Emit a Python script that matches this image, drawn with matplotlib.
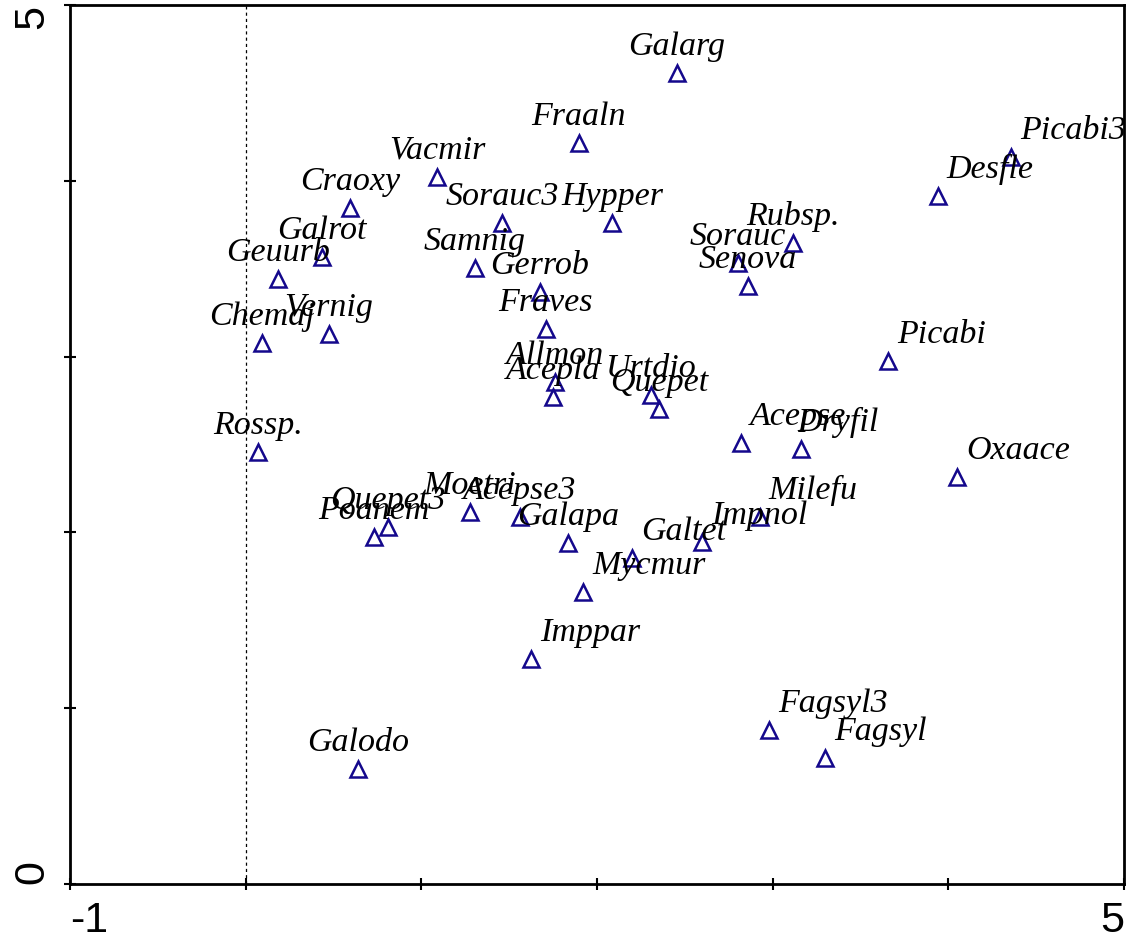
import matplotlib
matplotlib.use('Agg')
import matplotlib.pyplot as plt

# species scores (axis 1, axis 2)
species = ['Galarg', 'Fraaln', 'Vacmir', 'Craoxy', 'Sorauc3', 'Hypper', 'Galrot', 'Samnig',
           'Geuurb', 'Gerrob', 'Fraves', 'Vernig', 'Chemaj', 'Allmon', 'Acepla', 'Urtdio',
           'Quepet', 'Rossp.', 'Poanem', 'Quepet3', 'Moetri', 'Acepse3', 'Galapa', 'Mycmur',
           'Galtet', 'Impnol', 'Milefu', 'Imppar', 'Galodo', 'Acepse', 'Dryfil', 'Picabi',
           'Oxaace', 'Desfle', 'Picabi3', 'Rubsp.', 'Sorauc', 'Senova', 'Fagsyl3', 'Fagsyl']
axis1 = [2.455, 1.897, 1.089, 0.594, 1.459, 2.085, 0.434, 1.305,
         0.184, 1.675, 1.709, 0.474, 0.093, 1.760, 1.749, 2.307,
         2.352, 0.070, 0.730, 0.810, 1.277, 1.561, 1.834, 1.920,
         2.199, 2.597, 2.927, 1.624, 0.639, 2.819, 3.160, 3.656,
         4.048, 3.940, 4.356, 3.115, 2.802, 2.859, 2.978, 3.297]
axis2 = [4.613, 4.215, 4.022, 3.845, 3.760, 3.760, 3.567, 3.504,
         3.441, 3.367, 3.157, 3.129, 3.077, 2.856, 2.770, 2.782,
         2.702, 2.457, 1.974, 2.031, 2.116, 2.088, 1.940, 1.661,
         1.854, 1.945, 2.088, 1.280, 0.654, 2.509, 2.474, 2.975,
         2.315, 3.914, 4.135, 3.646, 3.532, 3.402, 0.876, 0.717]

# labels set to the upper right of their point, the rest sit centred above
right_side = {'Mycmur', 'Galtet', 'Impnol', 'Milefu', 'Imppar', 'Acepse', 'Dryfil',
              'Picabi', 'Oxaace', 'Desfle', 'Picabi3', 'Fagsyl3', 'Fagsyl'}
nudge = {'Dryfil': -9}

fig = plt.figure(figsize=(11.34, 9.42), dpi=100)
ax = fig.add_axes([0.0617, 0.0616, 0.9295, 0.9331])

ax.plot(axis1, axis2, linestyle='none', marker='^', ms=11.5, mfc='none',
        mec='#14088c', mew=1.8, zorder=3)

for name, x, y in zip(species, axis1, axis2):
    if name in right_side:
        dx, ha = 6.5 + nudge.get(name, 0), 'left'
    else:
        dx, ha = 0, 'center'
    ax.annotate(name, (x, y), xytext=(dx, 13), textcoords='offset points',
                ha=ha, va='baseline', fontsize=24.5, fontstyle='italic',
                family='Liberation Serif', color='black', zorder=4)

ax.axvline(0, color='black', lw=0.9, ls=(0, (2.5, 2.5)), zorder=1)

ax.set_xlim(-1, 5)
ax.set_ylim(0, 5)
ax.set_xticks(range(-1, 6))
ax.set_xticklabels(['-1', '', '', '', '', '', '5'])
ax.set_yticks(range(0, 6))
ax.set_yticklabels(['0', '', '', '', '', '5'], rotation=90)
ax.tick_params(direction='inout', length=9, width=1.5, labelsize=31)
ax.tick_params(axis='x', pad=8)
ax.tick_params(axis='y', pad=8)
for lab in ax.get_xticklabels() + ax.get_yticklabels():
    lab.set_family('Liberation Sans')
xl = ax.get_xticklabels()
xl[0].set_ha('left')
xl[-1].set_ha('right')
yl = ax.get_yticklabels()
yl[0].set_va('bottom')
yl[-1].set_va('top')

for s in ax.spines.values():
    s.set_linewidth(2)

fig.savefig('out.png', dpi=100)
